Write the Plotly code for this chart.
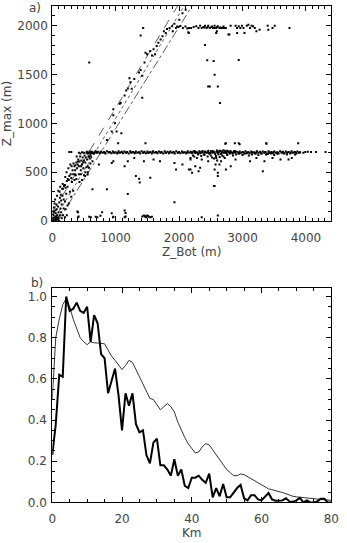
import plotly.graph_objects as go

# ---------------- Panel a) scatter data (Z_Bot, Z_max) in metres ----------------
diag_pts = [
    (10,20),(20,60),(30,10),(15,100),(40,40),(55,80),(25,140),(60,20),(70,120),(35,180),
    (80,60),(90,150),(45,220),(100,90),(110,190),(50,30),(120,240),(65,170),(130,130),(75,260),
    (140,210),(150,170),(95,310),(160,260),(170,330),(115,300),(180,220),(125,350),
    (200,370),(135,270),(210,340),(220,280),(155,330),(230,410),(240,350),(165,380),
    (260,420),(185,360),(270,460),(205,450),(290,480),
    (300,440),(225,500),(310,400),(320,520),(245,430),(330,480),(255,540),
    (350,560),(360,520),(285,580),(370,470),(380,600),(305,560),(390,540),
    (400,580),(410,630),(335,590),(420,560),(430,610),(440,660),(365,570),
    (450,520),(460,620),(385,660),(470,580),(480,650),(405,610),(490,540),
    (500,620),(510,670),(520,600),(445,690),(530,650),(455,560),(540,700),
    (550,630),(560,690),(485,600),(570,660),(580,700),(590,640),
    (600,680),(610,660),(620,710),(630,700),(650,690),(580,660),
    (670,700),(690,710),(710,700),
    (5,5),(12,35),(22,0),(8,70),(45,10),(60,50),(30,90),(75,35),(50,110),(90,20),(40,0),
    (100,40),(65,0),(120,60),(110,0),(140,90),(150,30),(170,60),(200,40),
    (210,120),(230,60),(260,180),(300,250),(330,310),(280,300),(350,420),(380,430),
    (420,480),(450,480),(470,420),(520,500),(560,560),(540,550),(600,590),
    (360,480),(200,200),(180,130),(240,160),(430,400),(500,470),(560,500),(580,545),(520,460),
]

band_pts = [
    (545,708),(568,694),(590,712),(612,698),(636,705),(658,690),(681,713),(703,700),(727,708),(750,693),
    (772,711),(795,699),(818,706),(840,692),(864,714),(887,701),(909,707),(932,694),(955,712),(977,699),
    (1000,705),(1023,691),(1046,713),(1068,700),(1091,708),(1114,694),(1137,711),(1159,698),(1182,706),(1205,692),
    (1228,714),(1250,700),(1273,707),(1296,694),(1318,712),(1341,699),(1364,705),(1387,691),(1409,713),(1432,700),
    (1455,708),(1478,694),(1500,711),(1523,698),(1546,706),(1569,692),(1591,714),(1614,700),(1637,707),(1660,694),
    (1682,712),(1705,699),(1728,705),(1750,691),(1773,713),(1796,700),(1819,708),(1841,694),(1864,711),(1887,698),
    (1910,706),(1932,692),(1955,714),(1978,700),(2001,707),(2023,694),(2046,712),(2069,699),(2092,705),(2114,691),
    (2137,713),(2160,700),(2183,708),(2205,694),(2228,711),(2251,698),(2274,706),(2296,690),(2319,714),(2342,700),
    (2364,707),(2387,688),(2410,712),(2433,699),(2455,705),(2478,689),(2501,713),(2524,700),(2546,708),(2569,687),
    (2592,711),(2615,698),(2637,716),(2660,686),(2683,714),(2706,700),(2728,718),(2751,690),(2774,712),(2797,699),
    (2819,705),(2842,691),(2865,713),(2887,700),(2910,708),(2933,694),(2956,711),(2978,698),(3001,706),(3024,692),
    (3047,714),(3069,700),(3092,707),(3115,694),(3137,712),(3160,699),(3183,705),(3206,691),(3228,713),(3251,700),
    (3274,708),(3297,694),(3319,711),(3342,698),(3365,706),(3388,692),(3410,714),(3433,700),(3456,707),(3479,694),
    (3501,712),(3524,699),(3547,705),(3569,691),(3592,713),(3615,700),(3638,708),(3660,694),(3683,711),(3706,698),
    (3729,706),(3751,692),(3774,714),(3797,700),(3820,707),(3842,694),(3865,712),(3888,699),(3910,705),
    (3960,698),(3990,706),(4030,710),(4081,706),(4157,706),(4309,706),(269,706),(300,706),(420,700),(470,705),(500,698),
    (2210,702),(2245,716),(2290,700),(2335,695),(2370,718),(2420,703),(2460,720),(2490,697),(2530,717),(2560,702),
    (2600,722),(2625,703),(2650,720),(2670,698),(2700,724),(2720,705),(2740,698),(2760,720),(2785,703),(2810,718),
    (2850,702),(2880,716),
    (557,702),(625,700),(692,706),(760,702),(829,699),(898,704),(966,702),(1034,700),(1103,704),(1170,701),
    (1239,703),(1307,700),(1375,704),(1444,702),(1512,700),(1580,705),(1648,701),(1716,703),(1785,700),(1853,704),
    (1921,702),(1989,699),(2058,704),(2126,701),(2194,703),(2262,700),(2330,705),(2399,702),(2467,699),(2535,704),
    (2603,701),(2672,703),(2740,709),(2808,702),(2876,704),(2945,701),(3013,703),(3081,700),(3149,704),(3217,702),
    (3286,700),(3354,704),(3422,701),(3490,703),(3558,700),(3627,704),(3695,702),(3763,700),(3831,704),(3899,701),
]

below_pts = [
    (963,612),(1141,562),(1293,646),(1318,461),(1369,434),(1379,394),(1546,444),(2180,646),(2180,528),(2205,494),
    (2256,562),(2281,646),(2307,511),(2332,545),(2357,629),(2459,612),(2560,528),(2575,578),(2585,646),(2611,461),
    (2611,494),(2560,360),(2636,578),(2662,612),(2738,528),(2814,562),(2890,629),(3118,612),(3219,646),(3320,511),
    (3346,612),(3372,680),(3473,646),(3599,629),(3726,629),(3777,646),(3828,680),(1597,629),(1699,612),(1927,595),
    (1952,528),(2053,578),(2155,528),(2180,629),(1445,612),(1191,612),(938,595),(735,578),(634,612),(558,477),
    (2220,670),(2240,660),(2300,680),(2350,665),(2400,675),(2450,660),(2500,670),(2520,650),(2550,640),(2580,665),
    (2600,620),(2620,680),(2640,655),(2680,672),(2700,660),(2720,645),(2760,675),(2800,690),(2850,670),(2900,680),
    (2950,688),(3000,675),(3050,690),(3100,670),(3150,682),(3200,690),(3250,675),(3300,688),(3400,685),(3450,690),
    (3500,675),(3550,688),(3650,690),(3700,680),(3850,690),
    (2738,797),(2879,797),(2940,797),(2955,787),(3372,797),(3878,797),(1470,797),(1039,797),(2727,790),(3380,790),
    (406,91),(406,40),(608,40),(710,40),(786,91),(938,81),(958,40),(1141,108),(1141,40),(1445,57),(1470,47),
    (1496,57),(1546,40),(2357,40),(2611,57),(395,98),(416,47),(583,44),(684,44),(760,54),(963,44),(1156,84),
    (1156,47),(1419,47),(1521,44),(1571,44),(1480,40),(1460,50),(1510,52),
    (862,326),(1191,276),(1927,192),(2550,360),(634,326),
]

upper_pts = [
    (963,1143),(1065,1201),(1080,1211),(1141,1285),(1166,1335),(1192,1355),(1232,1420),(1252,1352),(1293,1453),
    (1369,1520),(1394,1544),(1419,1486),(1455,1621),(1470,1722),(1495,1705),(1546,1740),(1572,1692),(1597,1756),
    (1622,1705),(1647,1790),(1673,1823),(1708,1857),(1738,1891),(1760,1941),(1790,1924),(1810,1965),(1850,1975),
    (1890,1992),(1926,2018),(1900,1941),(2003,2058),(2053,2126),(2104,2160),(2155,1975),(2145,1930),(963,1083),
    (989,1000),(1014,916),(938,916),(1090,898),(862,829),
    (583,1621),(1434,1975),(1394,1897),(1217,1460),(1419,1261),
    (2408,1800),(2444,1645),(2545,1638),(2940,1648),(2560,1497),(2459,1376),(2484,1376),(2611,1376),(2646,1208),
    (2154,1974),(2190,1974),(2230,1984),(2271,1991),(2306,1974),(2332,1998),(2357,1974),(2383,1984),(2408,1998),
    (2433,1974),(2459,1998),(2484,1974),(2509,1984),(2535,1974),(2560,1998),(2585,1974),(2611,1991),(2636,1974),
    (2661,1974),(2687,1974),(2712,1974),(2737,1974),(2778,1907),(2793,1907),(2813,1998),(2890,1998),(2915,1974),
    (2940,1991),(2966,1974),(2991,1998),(3016,1974),(3031,1924),(3067,1998),(3092,2008),(3118,1974),(3143,1998),
    (3168,1991),(3194,1974),(3219,1941),(3270,1957),(3397,1998),(3407,1957),(3473,1974),(3508,1998),(3741,1974),
    (2595,1941),(2585,1924),(2154,1924),(2915,1924),(1950,1975),(1990,1985),(2020,1995),(2060,1975),(2100,1990),
    (2130,1970),(1970,1990),(2400,1980),(2450,1985),(2520,1990),(2560,1975),(2600,1985),(2650,1980),(2700,1990),
]

# Guide lines in panel a): (Z_Bot endpoints, Z_max endpoints)
line1_x = [0, 1977]
line1_y = [89, 2200]
line2_x = [15, 2079]
line2_y = [0, 2200]
line3_x = [90, 2205]
line3_y = [0, 2200]

# ---------------- Panel b) curves ----------------
km = list(range(0, 81))
thick_vals = [
    0.23, 0.38, 0.62, 0.61, 1.00, 0.93, 0.94, 0.97, 0.93, 0.92,
    0.95, 0.78, 0.91, 0.87, 0.72, 0.70, 0.53, 0.59, 0.65, 0.52,
    0.35, 0.53, 0.47, 0.53, 0.38, 0.34, 0.35, 0.23, 0.19, 0.29,
    0.31, 0.18, 0.18, 0.16, 0.13, 0.21, 0.13, 0.16, 0.08, 0.07,
    0.12, 0.12, 0.13, 0.11, 0.095, 0.14, 0.025, 0.07, 0.03, 0.09,
    0.025, 0.025, 0.05, 0.07, 0.085, 0.02, 0.01, 0.035, 0.035, 0.015,
    0.01, 0.03, 0.046, 0.015, 0.008, 0.008, 0.01, 0.02, 0.005, 0.003,
    0.01, 0.022, 0.0, 0.01, 0.0, 0.0, 0.005, 0.018, 0.018, 0.0, 0.0,
]
thin_vals = [
    0.50, 0.80, 0.89, 0.96, 0.99, 0.95, 0.89, 0.84, 0.80, 0.78,
    0.766, 0.78, 0.775, 0.774, 0.772, 0.77, 0.74, 0.71, 0.69, 0.665,
    0.645, 0.665, 0.69, 0.68, 0.645, 0.61, 0.57, 0.535, 0.505, 0.50,
    0.475, 0.45, 0.465, 0.48, 0.465, 0.44, 0.39, 0.35, 0.315, 0.285,
    0.26, 0.24, 0.245, 0.27, 0.285, 0.28, 0.255, 0.23, 0.205, 0.18,
    0.16, 0.145, 0.13, 0.13, 0.138, 0.135, 0.125, 0.115, 0.105, 0.095,
    0.088, 0.078, 0.066, 0.062, 0.058, 0.055, 0.048, 0.042, 0.035, 0.03,
    0.027, 0.025, 0.022, 0.02, 0.019, 0.017, 0.016, 0.015, 0.013, 0.012, 0.01,
]

# ---------------- figure ----------------
all_pts = diag_pts + band_pts + below_pts + upper_pts
sx = [p[0] for p in all_pts]
sy = [p[1] for p in all_pts]

FONT = "DejaVu Sans"
TXT = "#444444"

fig = go.Figure()
for lx, ly, dash in [(line1_x, line1_y, "dash"), (line2_x, line2_y, "dot"), (line3_x, line3_y, "dashdot")]:
    fig.add_trace(go.Scatter(x=lx, y=ly, mode="lines", line=dict(color="#333", width=0.8, dash=dash),
                             xaxis="x", yaxis="y", showlegend=False, hoverinfo="skip"))
fig.add_trace(go.Scatter(x=sx, y=sy, mode="markers", marker=dict(color="black", size=2, symbol="square"),
                         xaxis="x", yaxis="y", showlegend=False))
fig.add_trace(go.Scatter(x=km, y=thin_vals, mode="lines", line=dict(color="#333", width=1),
                         xaxis="x2", yaxis="y2", showlegend=False))
fig.add_trace(go.Scatter(x=km, y=thick_vals, mode="lines", line=dict(color="black", width=2),
                         xaxis="x2", yaxis="y2", showlegend=False))

W, H = 347, 543
xd = [50 / W, 339 / W]
ya = [1 - 224 / H, 1 - 6 / H]
yb = [1 - 509 / H, 1 - 292 / H]

common = dict(showline=True, linecolor="black", linewidth=1, mirror="ticks", ticks="inside",
              ticklen=5, tickcolor="black", showgrid=False, zeroline=False,
              tickfont=dict(family=FONT, size=12, color=TXT))
tfont = dict(family=FONT, size=12, color=TXT)

fig.update_layout(
    width=W, height=H, margin=dict(l=0, r=0, t=0, b=0),
    paper_bgcolor="white", plot_bgcolor="white",
    xaxis=dict(domain=xd, anchor="y", range=[0, 4400], dtick=1000, tick0=0, ticklabelstandoff=5,
               minor=dict(dtick=100, ticklen=3, ticks="inside", tickcolor="black"),
               title=dict(text="Z_Bot (m)", font=tfont, standoff=3),
               **common),
    yaxis=dict(domain=ya, anchor="x", range=[0, 2200], dtick=500, tick0=0, ticklabelstandoff=1,
               minor=dict(dtick=100, ticklen=3, ticks="inside", tickcolor="black"),
               title=dict(text="Z_max (m)", font=tfont, standoff=3),
               **common),
    xaxis2=dict(domain=xd, anchor="y2", range=[0, 80], dtick=20, tick0=0, ticklabelstandoff=5,
                minor=dict(dtick=5, ticklen=3, ticks="inside", tickcolor="black"),
                title=dict(text="Km", font=tfont, standoff=3),
                **common),
    yaxis2=dict(domain=yb, anchor="x2", range=[0, 1.04], dtick=0.2, tick0=0, tickformat=".1f",
                ticklabelstandoff=2,
                minor=dict(dtick=0.05, ticklen=3, ticks="inside", tickcolor="black"),
                **common),
    annotations=[
        dict(text="a)", x=40 / W, y=1 - 8 / H, xref="paper", yref="paper", showarrow=False,
             xanchor="right", yanchor="middle", font=tfont),
        dict(text="b)", x=42 / W, y=1 - 287 / H, xref="paper", yref="paper", showarrow=False,
             xanchor="right", yanchor="middle", font=tfont),
    ],
)

fig.write_html("out.html")
